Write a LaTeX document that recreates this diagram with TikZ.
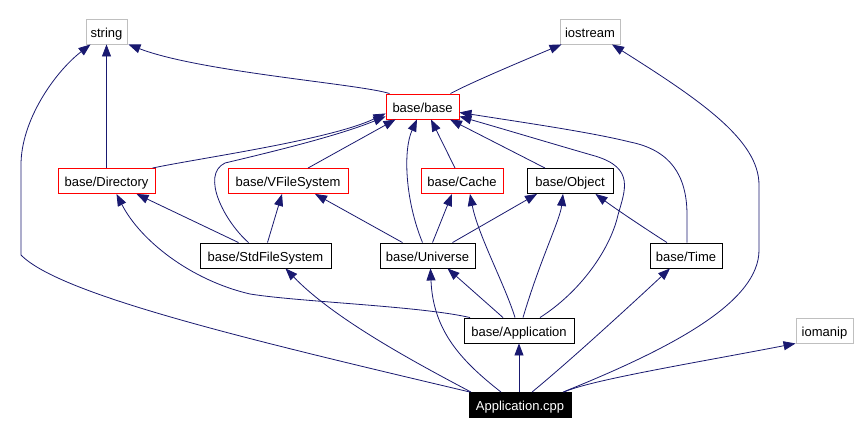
\documentclass[tikz,border=0pt]{standalone}
\usepackage{fontspec}
\setmainfont{Liberation Sans}
\usetikzlibrary{arrows.meta,calc}
\definecolor{mblue}{HTML}{191970}
\definecolor{lgray}{HTML}{BFBFBF}
\begin{document}
\begin{tikzpicture}[x=1pt,y=-1pt,
  nd/.style={draw=black,line width=0.9pt,minimum height=25pt,inner sep=0pt,text height=11.5pt,text depth=0pt,fill=white,font=\fontsize{13}{15}\selectfont},
  edge/.style={draw=mblue,line width=0.8pt,-{Triangle[length=12pt,width=9pt]}}]
\useasboundingbox[fill=white] (0,0) rectangle (859,435);
% nodes
\node[nd,draw=lgray,minimum width=41pt] (string) at (106.5,31.5) {string};
\node[nd,draw=lgray,minimum width=60pt] (iostream) at (590,31.5) {iostream};
\node[nd,draw=red,minimum width=73pt] (base) at (422.5,106.5) {base/base};
\node[nd,draw=red,minimum width=97pt] (dir) at (106.5,181) {base/Directory};
\node[nd,draw=red,minimum width=120pt] (vfs) at (288,181) {base/VFileSystem};
\node[nd,draw=red,minimum width=82pt] (cache) at (462,181) {base/Cache};
\node[nd,minimum width=86pt] (obj) at (570,181) {base/Object};
\node[nd,minimum width=131pt] (std) at (265.5,255.5) {base/StdFileSystem};
\node[nd,minimum width=95pt] (univ) at (427.5,255.5) {base/Universe};
\node[nd,minimum width=72pt] (time) at (686,255.5) {base/Time};
\node[nd,minimum width=110pt] (app) at (519,330.5) {base/Application};
\node[nd,draw=lgray,minimum width=57pt] (iomanip) at (824.5,330.5) {iomanip};
\node[nd,fill=black,text=white,minimum width=102pt] (cpp) at (520,405) {Application.cpp};
% edges from Application.cpp
\draw[edge] ($(cpp.north)+(-50,0)$) .. controls (250,340) and (60,295) .. (21,255) -- (21,165) .. controls (21,120) and (55,72) .. ($(string.south)+(-16,0)$);
\draw[edge] ($(cpp.north)+(43,0)$) .. controls (680,345) and (759,300) .. (759,250) -- (759,185) .. controls (759,140) and (700,100) .. ($(iostream.south)+(22,0)$);
\draw[edge] ($(cpp.north)+(44,0)$) .. controls (590,380) and (700,362) .. (iomanip.south west);
\draw[edge] (app.south |- cpp.north) -- (app.south);
\draw[edge] ($(cpp.north)+(12,0)$) .. controls (565,365) and (620,315) .. ($(time.south)+(-16,0)$);
\draw[edge] ($(cpp.north)+(-19,0)$) .. controls (460,360) and (433,330) .. ($(univ.south)+(3,0)$);
\draw[edge] ($(cpp.north)+(-49,0)$) .. controls (420,365) and (335,320) .. ($(std.south)+(20,0)$);
% edges from base/Application
\draw[edge] ($(app.north)+(-49,0)$) .. controls (420,306) and (300,302) .. (250,294) .. controls (190,280) and (140,240) .. ($(dir.south)+(10,0)$);
\draw[edge] ($(app.north)+(-16,0)$) -- ($(univ.south)+(20,0)$);
\draw[edge] ($(app.north)+(-4,0)$) .. controls (505,285) and (478,235) .. ($(cache.south)+(8,0)$);
\draw[edge] ($(app.north)+(4,0)$) .. controls (540,260) and (560,220) .. ($(obj.south)+(-7,0)$);
\draw[edge] ($(app.north)+(21,0)$) .. controls (580,292) and (610,250) .. (618,215) .. controls (625,190) and (635,168) .. (595,156) .. controls (560,146) and (500,128) .. ($(base.south east)+(0,-3)$);
% edges from base/StdFileSystem
\draw[edge] ($(std.north)+(-27,0)$) -- ($(dir.south)+(30,0)$);
\draw[edge] ($(std.north)+(-17,0)$) .. controls (225,222) and (200,175) .. (225,163) .. controls (280,150) and (340,135) .. ($(base.south west)+(0,-3)$);
\draw[edge] ($(std.north)+(2,0)$) -- ($(vfs.south)+(-6,0)$);
% edges from base/Universe
\draw[edge] ($(univ.north)+(-25,0)$) -- ($(vfs.south)+(27,0)$);
\draw[edge] ($(univ.north)+(-5,0)$) .. controls (405,200) and (403,150) .. ($(base.south)+(-5.5,0)$);
\draw[edge] ($(univ.north)+(5,0)$) -- ($(cache.south)+(-10,0)$);
\draw[edge] ($(univ.north)+(25,0)$) -- ($(obj.south)+(-33,0)$);
% edges from base/Time
\draw[edge] ($(time.north)+(-19,0)$) .. controls (655,235) and (620,212) .. ($(obj.south east)+(-18,0)$);
\draw[edge] ($(time.north)+(1,0)$) -- (687,215) .. controls (687,175) and (670,150) .. (630,142) .. controls (590,132) and (520,122) .. ($(base.south east)+(0,-7)$);
% second level
\draw[edge] ($(obj.north)+(-25,0)$) -- ($(base.south)+(27.5,0)$);
\draw[edge] ($(cache.north)+(-7,0)$) -- ($(base.south)+(8.5,0)$);
\draw[edge] ($(vfs.north)+(20,0)$) -- ($(base.south west)+(10,0)$);
\draw[edge] ($(dir.north)+(46,0)$) .. controls (200,158) and (330,140) .. ($(base.south west)+(0,-6)$);
\draw[edge] (dir.north) -- (string.south);
% from base/base
\draw[edge] ($(base.north west)+(4,0)$) .. controls (360,84) and (200,72) .. ($(string.south east)+(1,0)$);
\draw[edge] ($(base.north)+(28,0)$) .. controls (470,83) and (520,62) .. ($(iostream.south west)+(2,0)$);
\end{tikzpicture}
\end{document}
